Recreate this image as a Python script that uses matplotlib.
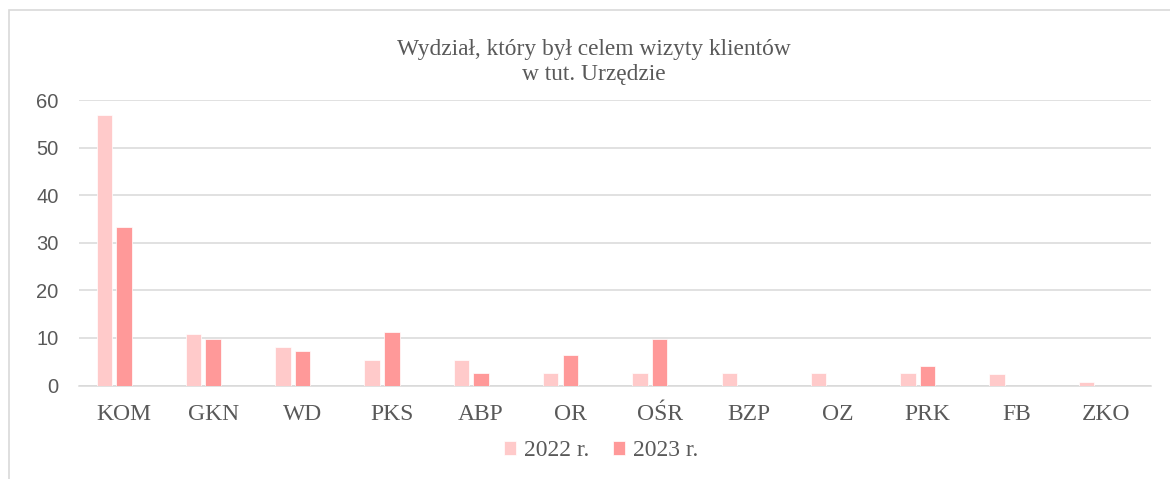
import numpy as np
from matplotlib import pyplot as plt
from matplotlib.patches import Rectangle

kategorie = ["KOM", "GKN", "WD", "PKS", "ABP", "OR", "OŚR", "BZP", "OZ", "PRK", "FB", "ZKO"]
wartosci2022 = [56.8, 10.8, 8.1, 5.4, 5.4, 2.7, 2.7, 2.7, 2.7, 2.7, 2.4, 0.7]
wartosci2023 = [33.3, 9.7, 7.3, 11.3, 2.7, 6.4, 9.7, 0, 0, 4.0, 0, 0]
serie = ["2022 r.", "2023 r."]
kolory = ["#ffcaca", "#ff9999"]
tytul = "Wydział, który był celem wizyty klientów\nw tut. Urzędzie"

szary = "#595959"
siatka = "#d9d9d9"
serif = ["Liberation Serif", "DejaVu Serif"]

fig = plt.figure(figsize=(11.7, 4.79), dpi=100)
ax = fig.add_axes([79.3 / 1170, 1 - 385.5 / 479, (1150.7 - 79.3) / 1170, (385.5 - 100) / 479])

# ramka obszaru wykresu
fig.patches.append(Rectangle((9 / 1170, -0.1), 1.2, 1.1 - 10 / 479, transform=fig.transFigure,
                             fill=False, edgecolor=siatka, linewidth=1.2))

x = np.arange(len(kategorie))
szer = 0.174
ax.bar(x - 0.22, wartosci2022, szer, color=kolory[0], edgecolor="white", linewidth=0.5, label=serie[0], zorder=3)
ax.bar(x, wartosci2023, szer, color=kolory[1], edgecolor="white", linewidth=0.5, label=serie[1], zorder=3)

ax.set_xlim(-0.5, len(kategorie) - 0.5)
ax.set_ylim(0, 60)
ax.set_yticks(range(0, 61, 10))
ax.yaxis.grid(True, color=siatka, linewidth=1.1, zorder=0)
ax.set_axisbelow(True)
for s in ["top", "right", "left"]:
    ax.spines[s].set_visible(False)
ax.spines["bottom"].set_color(siatka)
ax.spines["bottom"].set_linewidth(1.1)

ax.set_xticks(x)
ax.set_xticklabels(kategorie, fontfamily=serif, fontsize=17, color=szary)
ax.tick_params(axis="x", length=0, pad=13)
ax.tick_params(axis="y", length=0, pad=15, labelsize=14.5, labelcolor=szary)
for t in ax.get_yticklabels():
    t.set_fontfamily(["Liberation Sans", "DejaVu Sans"])

# baseline odnosi sie do ostatniej linii tytulu
fig.text(593.7 / 1170, 1 - 80 / 479, tytul, ha="center", va="baseline", fontsize=16.8,
         color=szary, family=serif, linespacing=1.25, multialignment="center")

leg = fig.legend(loc="center", bbox_to_anchor=(601 / 1170, 1 - 451 / 479), ncol=2, frameon=False,
                 prop={"family": serif, "size": 17}, handlelength=0.5, handleheight=0.5,
                 handletextpad=0.35, columnspacing=1.0)
for t in leg.get_texts():
    t.set_color(szary)

fig.savefig("out.png", dpi=100)
